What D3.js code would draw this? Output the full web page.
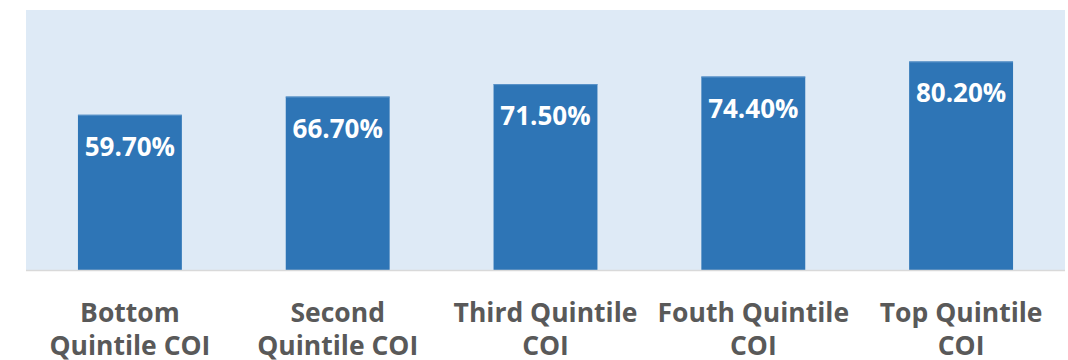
<!DOCTYPE html>
<html>
<head>
<meta charset="utf-8">
<script src="https://cdn.jsdelivr.net/npm/d3@7"></script>
<style>
  html, body { margin: 0; padding: 0; background: #ffffff; }
  svg { display: block; }
</style>
</head>
<body>
<div id="chart"></div>
<script>
// Share of children by Child Opportunity Index quintile
const categories = [
  "Bottom Quintile COI",
  "Second Quintile COI",
  "Third Quintile COI",
  "Fouth Quintile COI",
  "Top Quintile COI"
];
const values = [59.7, 66.7, 71.5, 74.4, 80.2];
const yDomain = [0, 100];

const width = 1068, height = 360;
const plot = { left: 26, right: 1065, top: 10, bottom: 270 };

const svg = d3.select("#chart").append("svg")
  .attr("width", width)
  .attr("height", height);

const x = d3.scaleBand()
  .domain(categories)
  .range([plot.left, plot.right])
  .paddingInner(0.5)
  .paddingOuter(0.25);

const y = d3.scaleLinear()
  .domain(yDomain)
  .range([plot.bottom, plot.top]);

// plot area background
svg.append("rect")
  .attr("x", plot.left)
  .attr("y", plot.top)
  .attr("width", plot.right - plot.left)
  .attr("height", plot.bottom - plot.top)
  .attr("fill", "#deeaf6");

// bars
const bars = svg.append("g").selectAll("g")
  .data(values)
  .join("g");

bars.append("rect")
  .attr("x", (d, i) => x(categories[i]))
  .attr("y", d => y(d))
  .attr("width", x.bandwidth())
  .attr("height", d => y(0) - y(d))
  .attr("fill", "#2e75b6");

// light edge along the top of each bar
bars.append("line")
  .attr("x1", (d, i) => x(categories[i]))
  .attr("x2", (d, i) => x(categories[i]) + x.bandwidth())
  .attr("y1", d => y(d) + 0.5)
  .attr("y2", d => y(d) + 0.5)
  .attr("stroke", "#5b93c9")
  .attr("stroke-width", 1);

// value labels inside the bars
bars.append("text")
  .attr("x", (d, i) => x(categories[i]) + x.bandwidth() / 2)
  .attr("y", d => y(d) + 41)
  .attr("text-anchor", "middle")
  .attr("font-family", "'Open Sans', sans-serif")
  .attr("font-weight", 700)
  .attr("font-size", 26)
  .attr("fill", "#ffffff")
  .text(d => d3.format(".2f")(d) + "%");

// category axis
const xAxis = svg.append("g")
  .attr("transform", `translate(0,${plot.bottom})`)
  .call(d3.axisBottom(x).tickSize(0).tickPadding(0));

xAxis.select(".domain")
  .attr("d", `M${plot.left},0.5H${plot.right}`)
  .attr("stroke", "#d9d9d9")
  .attr("stroke-width", 1.5);

xAxis.selectAll(".tick text")
  .attr("font-family", "'Open Sans', sans-serif")
  .attr("font-weight", 700)
  .attr("font-size", 26.5)
  .attr("fill", "#595959")
  .attr("y", 0)
  .attr("dy", 0)
  .each(function (d) {
    const text = d3.select(this);
    const words = d.split(" ");
    const maxWidth = 200;
    const lines = [];
    let line = [];
    text.text(null);
    const probe = text.append("tspan");
    words.forEach(w => {
      const trial = line.concat(w).join(" ");
      probe.text(trial);
      if (probe.node().getComputedTextLength() > maxWidth && line.length) {
        lines.push(line.join(" "));
        line = [w];
      } else {
        line.push(w);
      }
    });
    lines.push(line.join(" "));
    probe.remove();
    lines.forEach((l, k) => {
      text.append("tspan")
        .attr("x", 0)
        .attr("y", 52 + k * 33)
        .text(l);
    });
  });
</script>
</body>
</html>
